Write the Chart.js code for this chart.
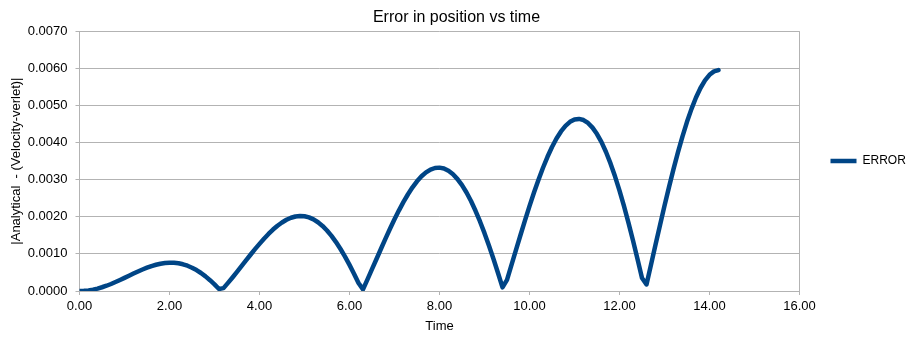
<!DOCTYPE html>
<html>
<head>
<meta charset="utf-8">
<script src="https://cdn.jsdelivr.net/npm/chart.js@4.4.1/dist/chart.umd.min.js"></script>
<style>
  html, body { margin: 0; padding: 0; background: #fff; }
  #wrap { width: 913px; height: 338px; }
</style>
</head>
<body>
<div id="wrap"><canvas id="grafik"></canvas></div>
<script>
// data (time step 0.1)
const waktu = [
  0.0, 0.1, 0.2, 0.3, 0.4, 0.5, 0.6, 0.7, 0.8, 0.9,
  1.0, 1.1, 1.2, 1.3, 1.4, 1.5, 1.6, 1.7, 1.8, 1.9,
  2.0, 2.1, 2.2, 2.3, 2.4, 2.5, 2.6, 2.7, 2.8, 2.9,
  3.0, 3.1, 3.2, 3.3, 3.4, 3.5, 3.6, 3.7, 3.8, 3.9,
  4.0, 4.1, 4.2, 4.3, 4.4, 4.5, 4.6, 4.7, 4.8, 4.9,
  5.0, 5.1, 5.2, 5.3, 5.4, 5.5, 5.6, 5.7, 5.8, 5.9,
  6.0, 6.1, 6.2, 6.3, 6.4, 6.5, 6.6, 6.7, 6.8, 6.9,
  7.0, 7.1, 7.2, 7.3, 7.4, 7.5, 7.6, 7.7, 7.8, 7.9,
  8.0, 8.1, 8.2, 8.3, 8.4, 8.5, 8.6, 8.7, 8.8, 8.9,
  9.0, 9.1, 9.2, 9.3, 9.4, 9.5, 9.6, 9.7, 9.8, 9.9,
  10.0, 10.1, 10.2, 10.3, 10.4, 10.5, 10.6, 10.7, 10.8, 10.9,
  11.0, 11.1, 11.2, 11.3, 11.4, 11.5, 11.6, 11.7, 11.8, 11.9,
  12.0, 12.1, 12.2, 12.3, 12.4, 12.5, 12.6, 12.7, 12.8, 12.9,
  13.0, 13.1, 13.2, 13.3, 13.4, 13.5, 13.6, 13.7, 13.8, 13.9,
  14.0, 14.1, 14.2
];

const errorPosisi = [
  0.000000, 0.000004, 0.000017, 0.000037, 0.000065, 0.000101, 0.000142, 0.000189, 0.000241, 0.000296,
  0.000353, 0.000412, 0.000470, 0.000526, 0.000579, 0.000628, 0.000672, 0.000708, 0.000736, 0.000755,
  0.000764, 0.000761, 0.000747, 0.000720, 0.000681, 0.000628, 0.000563, 0.000485, 0.000394, 0.000291,
  0.000178, 0.000054, 0.000078, 0.000219, 0.000365, 0.000516, 0.000669, 0.000823, 0.000977, 0.001127,
  0.001271, 0.001409, 0.001537, 0.001655, 0.001759, 0.001847, 0.001920, 0.001974, 0.002008, 0.002022,
  0.002014, 0.001983, 0.001930, 0.001853, 0.001753, 0.001630, 0.001485, 0.001318, 0.001132, 0.000927,
  0.000704, 0.000467, 0.000216, 0.000044, 0.000313, 0.000587, 0.000863, 0.001139, 0.001411, 0.001676,
  0.001932, 0.002174, 0.002400, 0.002607, 0.002793, 0.002955, 0.003090, 0.003196, 0.003271, 0.003314,
  0.003324, 0.003300, 0.003240, 0.003145, 0.003015, 0.002851, 0.002653, 0.002423, 0.002162, 0.001873,
  0.001558, 0.001220, 0.000861, 0.000486, 0.000098, 0.000300, 0.000703, 0.001107, 0.001509, 0.001902,
  0.002285, 0.002652, 0.002998, 0.003321, 0.003616, 0.003880, 0.004108, 0.004299, 0.004449, 0.004557,
  0.004620, 0.004637, 0.004606, 0.004528, 0.004402, 0.004229, 0.004010, 0.003746, 0.003438, 0.003090,
  0.002704, 0.002285, 0.001835, 0.001360, 0.000862, 0.000349, 0.000178, 0.000710, 0.001245, 0.001774,
  0.002294, 0.002799, 0.003283, 0.003740, 0.004166, 0.004558, 0.004907, 0.005213, 0.005470, 0.005675,
  0.005825, 0.005918, 0.005952
];

const xTicks = [0, 2, 4, 6, 8, 10, 12, 14, 16];
const yTicks = [0, 0.001, 0.002, 0.003, 0.004, 0.005, 0.006, 0.007];

const FONT = 'Liberation Sans, Arial, sans-serif';
const WARNA_GARIS = '#004586';
const WARNA_GRID = '#b3b3b3';

Chart.defaults.font.family = FONT;
Chart.defaults.color = '#000';

const titik = waktu.map((t, i) => ({ x: t, y: errorPosisi[i] }));

new Chart(document.getElementById('grafik'), {
  type: 'line',
  data: {
    datasets: [{
      label: 'ERROR',
      data: titik,
      borderColor: WARNA_GARIS,
      backgroundColor: WARNA_GARIS,
      borderWidth: 4.5,
      borderJoinStyle: 'round',
      borderCapStyle: 'round',
      pointRadius: 0,
      pointStyle: 'line',
      tension: 0,
      fill: false
    }]
  },
  options: {
    responsive: true,
    maintainAspectRatio: false,
    animation: false,
    layout: { padding: 0 },
    plugins: {
      title: {
        display: true,
        text: 'Error in position vs time',
        font: { size: 16, weight: 'normal' },
        padding: { top: 8, bottom: 4 }
      },
      legend: {
        position: 'right',
        fullSize: false,
        maxWidth: 113.5,
        labels: {
          font: { size: 12 },
          usePointStyle: true,
          pointStyleWidth: 26,
          padding: 31
        }
      },
      tooltip: { enabled: false }
    },
    scales: {
      x: {
        type: 'linear',
        min: xTicks[0],
        max: xTicks[xTicks.length - 1],
        afterBuildTicks: s => { s.ticks = xTicks.map(v => ({ value: v })); },
        ticks: {
          font: { size: 13 },
          padding: 4,
          maxRotation: 0,
          callback: v => Number(v).toFixed(2)
        },
        grid: {
          drawOnChartArea: true,
          color: c => (c.tick && c.tick.value === 16) ? WARNA_GRID : 'rgba(0,0,0,0)',
          tickColor: WARNA_GRID,
          tickLength: 4
        },
        border: { color: WARNA_GRID },
        title: {
          display: true,
          text: 'Time',
          font: { size: 13 },
          padding: { top: 0, bottom: 4 }
        },
        afterFit: s => { s.height = 47; }
      },
      y: {
        min: yTicks[0],
        max: yTicks[yTicks.length - 1],
        afterBuildTicks: s => { s.ticks = yTicks.map(v => ({ value: v })); },
        ticks: {
          font: { size: 13 },
          padding: 8,
          callback: v => Number(v).toFixed(4)
        },
        grid: {
          color: WARNA_GRID,
          tickColor: WARNA_GRID,
          tickLength: 4
        },
        border: { color: WARNA_GRID },
        title: {
          display: true,
          text: '|Analytical  - (Velocity-verlet)|',
          font: { size: 13 },
          padding: { top: 9, bottom: 0 }
        },
        afterFit: s => { s.width = 79.5; }
      }
    }
  }
});
</script>
</body>
</html>
